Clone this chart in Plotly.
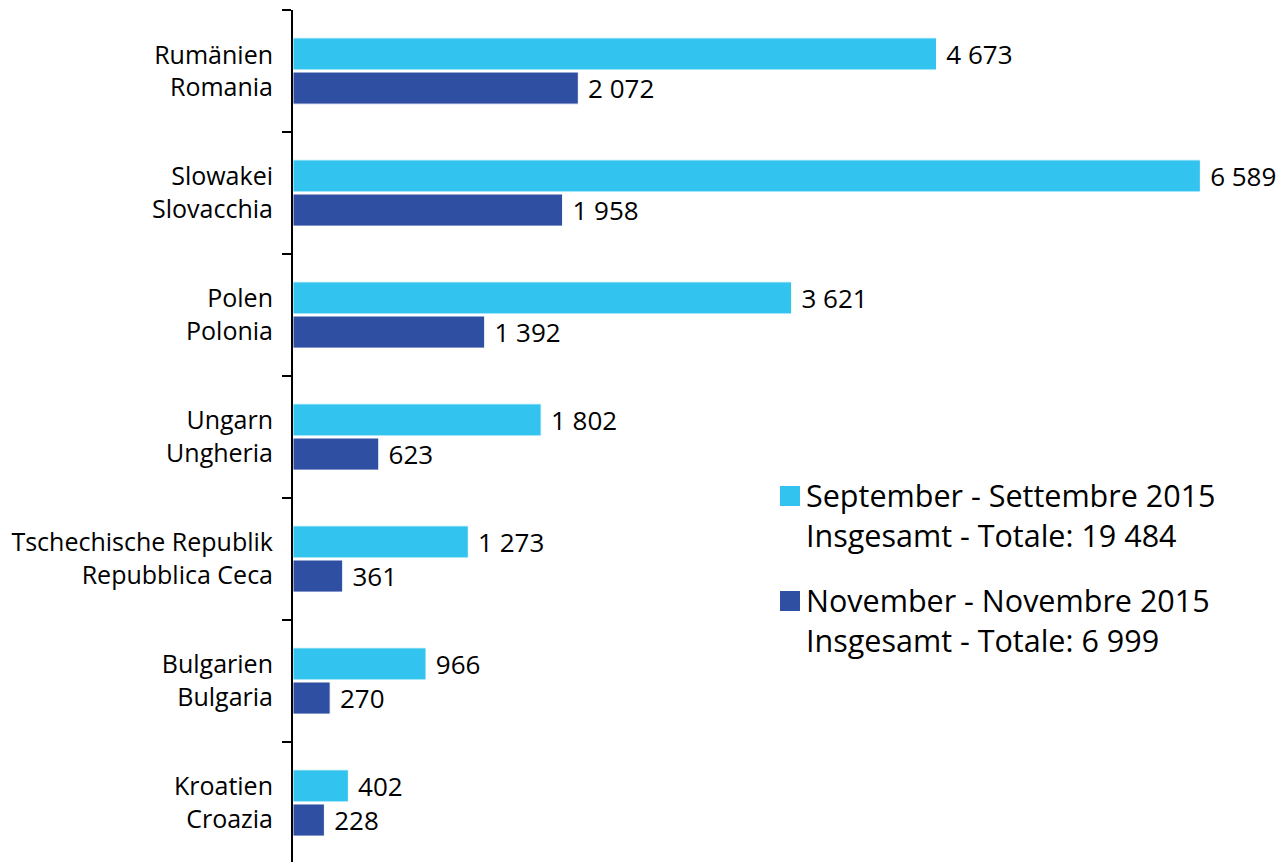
import plotly.graph_objects as go

# countries, top to bottom (German / Italian)
countries = [
    "Rumänien<br>Romania",
    "Slowakei<br>Slovacchia",
    "Polen<br>Polonia",
    "Ungarn<br>Ungheria",
    "Tschechische Republik<br>Repubblica Ceca",
    "Bulgarien<br>Bulgaria",
    "Kroatien<br>Croazia",
]
september = [4673, 6589, 3621, 1802, 1273, 966, 402]
november = [2072, 1958, 1392, 623, 361, 270, 228]

legend_names = [
    "September - Settembre 2015<br>Insgesamt - Totale: 19 484",
    "November - Novembre 2015<br>Insgesamt - Totale: 6 999",
]
colors = ["#33c3ef", "#2f4fa2"]

FONT = "Open Sans"


def fmt(v):
    # thousands separated by a space, with a little gap before the label
    return "\u00a0" + f"{v:,}".replace(",", " ")


fig = go.Figure()
for vals, name, col in zip([september, november], legend_names, colors):
    fig.add_trace(go.Bar(
        y=countries, x=vals, orientation="h", name=name,
        marker=dict(color=col, line=dict(color="white", width=1)),
        text=[fmt(v) for v in vals], textposition="outside",
        textfont=dict(family=FONT, size=26, color="black"),
        cliponaxis=False, constraintext="none",
    ))

fig.update_layout(
    width=1279, height=862,
    margin=dict(l=293, r=0, t=10, b=0),
    paper_bgcolor="white", plot_bgcolor="white",
    barmode="group", bargap=0.44, bargroupgap=0.06,
    showlegend=False,
    font=dict(family=FONT, size=25, color="black"),
)

fig.update_xaxes(range=[0, 7160], visible=False, showgrid=False,
                 automargin=False)
fig.update_yaxes(
    range=[6.484, -0.5], showgrid=False, zeroline=False, automargin=False,
    showline=True, linecolor="black", linewidth=2,
    ticks="outside", tickson="boundaries", ticklen=9, tickwidth=2,
    tickcolor="black", ticklabelstandoff=13,
    tickfont=dict(family=FONT, size=25, color="black"),
)

# hand-drawn legend (large squares and two-line labels)
leg_y = [496, 601]
for col, name, yc in zip(colors, legend_names, leg_y):
    fig.add_shape(type="rect", xref="paper", yref="paper",
                  x0=(780 - 293) / 986, x1=(800 - 293) / 986,
                  y0=(862 - (yc - 10)) / 852, y1=(862 - (yc + 10)) / 852,
                  fillcolor=col, line=dict(width=0))
    fig.add_annotation(xref="paper", yref="paper",
                       x=(804 - 293) / 986, y=(862 - (yc - 24)) / 852,
                       xanchor="left", yanchor="top", align="left",
                       showarrow=False, text=name,
                       font=dict(family=FONT, size=30.5, color="black"))

# drop the default page margin so the figure sits at the window corner
fig.write_html("out.html", config={"displayModeBar": False},
               post_script="document.body.style.margin='0px';")
